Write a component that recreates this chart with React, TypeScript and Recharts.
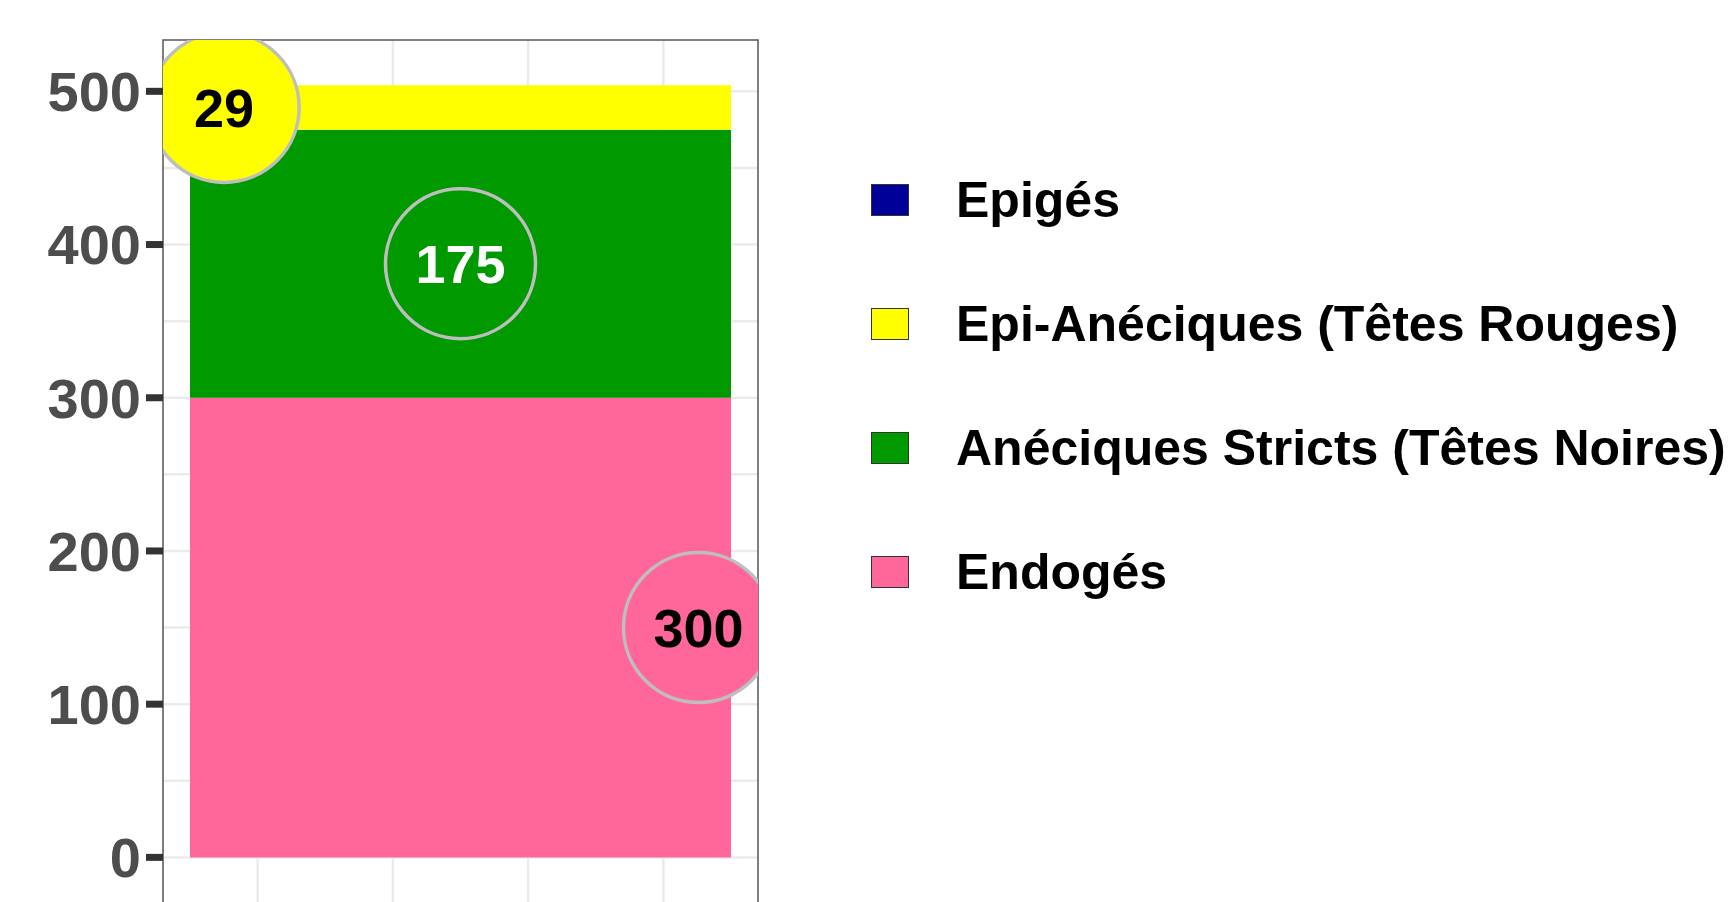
import {
  ComposedChart,
  Bar,
  Scatter,
  XAxis,
  YAxis,
  CartesianGrid,
  ReferenceArea,
  Legend
} from "recharts";

const categories = ["Site"];
// stack order, bottom to top
const seriesKeys = ["endo", "aneStrict", "epiAne", "epi"];
const seriesNames = [
  "Endogés",
  "Anéciques Stricts (Têtes Noires)",
  "Epi-Anéciques (Têtes Rouges)",
  "Epigés"
];
const seriesValues = [300, 175, 29, 0];
const seriesColors = ["#FF6699", "#009900", "#FFFF00", "#000099"];
const labelTextColors = ["#000000", "#FFFFFF", "#000000", "#000000"];
// horizontal position of each value bubble (x units, bar centred on 1)
const labelX = [1.44, 1.0, 0.563, 1.0];

const yTicks = [0, 100, 200, 300, 400, 500];
const yGrid = [0, 50, 100, 150, 200, 250, 300, 350, 400, 450, 500];
const xGrid = [0.625, 0.875, 1.125, 1.375];

const FONT = "'Liberation Sans', Arial, Helvetica, sans-serif";

const chartData = categories.map((name) => {
  const row: Record<string, string | number> = { name };
  seriesKeys.forEach((k, i) => {
    row[k] = seriesValues[i];
  });
  return row;
});

// one bubble per non-empty segment, placed at the middle of the segment
const bubbleData = seriesValues
  .map((v, i) => {
    const below = seriesValues.slice(0, i).reduce((a, b) => a + b, 0);
    return {
      x: labelX[i],
      y: below + v / 2,
      value: v,
      fill: seriesColors[i],
      textColor: labelTextColors[i]
    };
  })
  .filter((d) => d.value > 0);

const Bubble = (props: any) => {
  const { cx, cy, payload } = props;
  if (cx == null || cy == null) return null;
  return (
    <g>
      <circle cx={cx} cy={cy} r={75} fill={payload.fill} stroke="#BEBEBE" strokeWidth={3.5} />
      <text
        x={cx}
        y={cy}
        dy="0.355em"
        textAnchor="middle"
        fontFamily={FONT}
        fontWeight={700}
        fontSize={54}
        fill={payload.textColor}
      >
        {payload.value}
      </text>
    </g>
  );
};

const renderLegend = () => {
  const order = [3, 2, 1, 0];
  return (
    <div style={{ fontFamily: FONT }}>
      {order.map((i) => (
        <div
          key={seriesKeys[i]}
          style={{ height: 124, display: "flex", alignItems: "center" }}
        >
          <span
            style={{
              display: "inline-block",
              width: 38,
              height: 32,
              boxSizing: "border-box",
              border: "1.5px solid #333333",
              background: seriesColors[i]
            }}
          />
          <span
            style={{
              marginLeft: 47,
              fontSize: 50,
              fontWeight: 700,
              lineHeight: 1,
              color: "#000000",
              whiteSpace: "nowrap"
            }}
          >
            {seriesNames[i]}
          </span>
        </div>
      ))}
    </div>
  );
};

export default function App() {
  return (
    <div
      style={{
        position: "absolute",
        left: 0,
        top: 0,
        width: 1734,
        height: 902,
        overflow: "hidden",
        background: "#FFFFFF"
      }}
    >
      <ComposedChart
        width={1734}
        height={930}
        data={chartData}
        margin={{ top: 40, right: 976, bottom: 19, left: 0 }}
        barCategoryGap={27}
      >
        <XAxis dataKey="name" type="category" hide height={0} />
        <XAxis
          xAxisId="num"
          type="number"
          dataKey="x"
          domain={[0.45, 1.55]}
          allowDataOverflow
          hide
          height={0}
        />
        <YAxis
          type="number"
          domain={[-35, 533.5]}
          ticks={yTicks}
          allowDataOverflow
          width={163}
          axisLine={false}
          tickSize={17}
          tickMargin={5}
          tickLine={{ stroke: "#333333", strokeWidth: 7 }}
          tick={{ fill: "#4D4D4D", fontSize: 56, fontWeight: 700, fontFamily: FONT }}
        />
        <CartesianGrid
          xAxisId="num"
          stroke="#EBEBEB"
          strokeWidth={2.5}
          horizontalValues={yGrid}
          verticalValues={xGrid}
        />
        {seriesKeys.map((k, i) => (
          <Bar
            key={k}
            dataKey={k}
            name={seriesNames[i]}
            stackId="a"
            fill={seriesColors[i]}
            isAnimationActive={false}
          />
        ))}
        <Scatter
          xAxisId="num"
          data={bubbleData}
          dataKey="y"
          shape={Bubble}
          isAnimationActive={false}
        />
        <ReferenceArea
          xAxisId="num"
          x1={0.45}
          x2={1.55}
          y1={-35}
          y2={533.5}
          fill="none"
          stroke="#555555"
          strokeWidth={1.5}
          fillOpacity={0}
        />
        <Legend
          content={renderLegend}
          layout="vertical"
          align="center"
          verticalAlign="middle"
          wrapperStyle={{ left: 871, top: 138, width: 863 }}
        />
      </ComposedChart>
    </div>
  );
}
